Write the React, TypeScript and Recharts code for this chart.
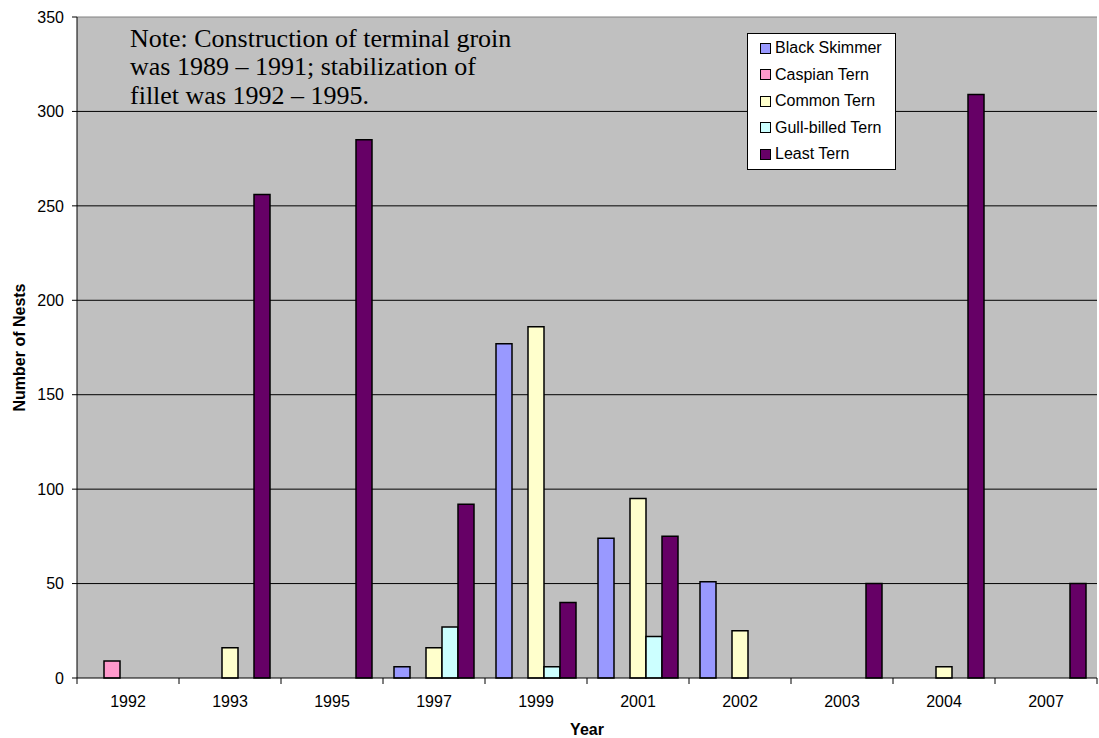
import { BarChart, Bar, XAxis, YAxis, CartesianGrid, Legend, ReferenceLine } from 'recharts';

const years = ['1992', '1993', '1995', '1997', '1999', '2001', '2002', '2003', '2004', '2007'];

const blackSkimmer = [null, null, null, 6, 177, 74, 51, null, null, null];
const caspianTern = [9, null, null, null, null, null, null, null, null, null];
const commonTern = [null, 16, null, 16, 186, 95, 25, null, 6, null];
const gullBilledTern = [null, null, null, 27, 6, 22, null, null, null, null];
const leastTern = [null, 256, 285, 92, 40, 75, null, 50, 309, 50];

const yTicks = [0, 50, 100, 150, 200, 250, 300, 350];
const gridValues = [50, 100, 150, 200, 250, 300];

const SERIES = [
  { key: 'blackSkimmer', name: 'Black Skimmer', color: '#9999FF', values: blackSkimmer },
  { key: 'caspianTern', name: 'Caspian Tern', color: '#FF99CC', values: caspianTern },
  { key: 'commonTern', name: 'Common Tern', color: '#FFFFCC', values: commonTern },
  { key: 'gullBilledTern', name: 'Gull-billed Tern', color: '#CCFFFF', values: gullBilledTern },
  { key: 'leastTern', name: 'Least Tern', color: '#660066', values: leastTern },
];

const data = years.map((year, i) => {
  const row: Record<string, any> = { year };
  SERIES.forEach((s) => {
    row[s.key] = s.values[i];
  });
  return row;
});

const SANS = '"Liberation Sans", Arial, sans-serif';

function YearTick(props: any) {
  const { x, y, payload, index, visibleTicksCount } = props;
  const half = payload && typeof payload.offset === 'number' && payload.offset > 0 ? payload.offset : 51;
  const axisY = y - 8;
  return (
    <g>
      <line x1={x - half} x2={x - half} y1={axisY} y2={axisY + 6} stroke="#000" />
      {index === visibleTicksCount - 1 && (
        <line x1={x + half} x2={x + half} y1={axisY} y2={axisY + 6} stroke="#000" />
      )}
      <text x={x} y={axisY + 29} textAnchor="middle" fill="#000" fontSize={16} fontFamily={SANS}>
        {payload.value}
      </text>
    </g>
  );
}

function renderLegend() {
  return (
    <div
      style={{
        border: '1px solid #000',
        background: '#fff',
        padding: '1px 0 1px 12px',
        fontFamily: SANS,
        fontSize: 16,
        color: '#000',
        boxSizing: 'border-box',
        width: 149,
      }}
    >
      {SERIES.map((s) => (
        <div key={s.key} style={{ display: 'flex', alignItems: 'center', height: 26.5, whiteSpace: 'nowrap' }}>
          <span
            style={{
              display: 'inline-block',
              width: 9,
              height: 9,
              border: '1px solid #000',
              background: s.color,
              marginRight: 4,
            }}
          />
          {s.name}
        </div>
      ))}
    </div>
  );
}

export default function App() {
  return (
    <div style={{ position: 'absolute', left: 0, top: 0, width: 1099, height: 738, background: '#fff' }}>
      <BarChart
        width={1099}
        height={738}
        data={data}
        margin={{ top: 17, right: 2, bottom: 0, left: 0 }}
        barSize={16}
        barGap={0}
      >
        <CartesianGrid vertical={false} stroke="#000" fill="#C0C0C0" horizontalValues={gridValues} />
        <ReferenceLine y={350} stroke="#808080" />
        <XAxis
          dataKey="year"
          height={60}
          tickSize={6}
          tickMargin={2}
          tickLine={false}
          axisLine={{ stroke: '#000' }}
          tick={<YearTick />}
          interval={0}
          label={{
            content: (p: any) => {
              const vb = p.viewBox || { x: 77, y: 678, width: 1020 };
              return (
                <text
                  x={vb.x + vb.width / 2}
                  y={vb.y + 57}
                  textAnchor="middle"
                  fontWeight="bold"
                  fontSize={16}
                  fontFamily={SANS}
                  fill="#000"
                >
                  Year
                </text>
              );
            },
          }}
        />
        <YAxis
          width={77}
          domain={[0, 350]}
          ticks={yTicks}
          interval={0}
          tickSize={5}
          tickMargin={8}
          axisLine={{ stroke: '#000' }}
          tickLine={{ stroke: '#000' }}
          tick={{ fill: '#000', fontSize: 16, fontFamily: SANS }}
          label={{
            content: (p: any) => {
              const vb = p.viewBox || { x: 0, y: 17, height: 661 };
              const cx = vb.x + 19;
              const cy = vb.y + vb.height / 2;
              return (
                <text
                  x={cx}
                  y={cy}
                  transform={`rotate(-90 ${cx} ${cy})`}
                  textAnchor="middle"
                  dominantBaseline="central"
                  fontWeight="bold"
                  fontSize={16}
                  fontFamily={SANS}
                  fill="#000"
                >
                  Number of Nests
                </text>
              );
            },
          }}
        />
        <Legend
          layout="vertical"
          align="center"
          verticalAlign="middle"
          content={renderLegend}
          wrapperStyle={{ left: 747, top: 33, width: 149 }}
        />
        {SERIES.map((s) => (
          <Bar
            key={s.key}
            dataKey={s.key}
            name={s.name}
            fill={s.color}
            stroke="#000"
            strokeWidth={1.5}
            isAnimationActive={false}
          />
        ))}
      </BarChart>
      <div
        style={{
          position: 'absolute',
          left: 130,
          top: 25,
          fontFamily: '"Liberation Serif", "Times New Roman", serif',
          fontSize: 26,
          lineHeight: '28.3px',
          color: '#000',
          whiteSpace: 'nowrap',
        }}
      >
        Note: Construction of terminal groin
        <br />
        was 1989 – 1991; stabilization of
        <br />
        fillet was 1992 – 1995.
      </div>
    </div>
  );
}
